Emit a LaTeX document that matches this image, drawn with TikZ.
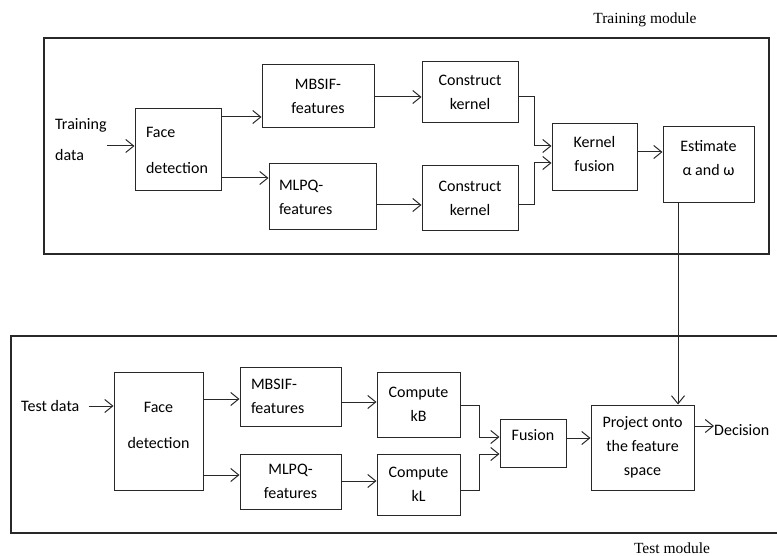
\documentclass[tikz,border=0pt]{standalone}
\usepackage{fontspec}
\setmainfont{Carlito}
\newfontfamily\seriflabel{Liberation Serif}
\usetikzlibrary{arrows.meta}
\definecolor{linec}{RGB}{40,40,40}
\begin{document}
\begin{tikzpicture}[x=1pt,y=-1pt,
  every node/.style={font=\fontsize{16}{24}\selectfont, text=black},
  box/.style={draw=linec, line width=1pt, align=center, inner sep=2pt},
  lbox/.style={box, align=left},
  arr/.style={draw=linec, line width=1pt, -{Straight Barb[length=8pt,width=13pt]}},
  frame/.style={draw=linec, line width=1.2pt},
  modlabel/.style={font=\seriflabel\fontsize{15.5}{18}\selectfont}]
\useasboundingbox (0,0) rectangle (777,556);

% ---------- Training module ----------
\draw[frame] (44,38) rectangle (769,254);
\node[modlabel] (trl) at (645,20) {Training module};

\node[anchor=west, inner sep=0, align=left] (tdata) at (55,139.5) {Training\\[7pt]data};
\node[lbox, inner xsep=11pt, text width=64pt, minimum width=86pt, minimum height=82pt] (face1) at (178,150) {Face\\[12pt]detection};
\node[box, minimum width=112pt, minimum height=63pt] (mbsif1) at (318,96.5) {MBSIF-\\features};
\node[lbox, inner xsep=10pt, text width=87pt, minimum width=107pt, minimum height=66pt] (mlpq1) at (322.5,197) {MLPQ-\\features};
\node[box, minimum width=96pt, minimum height=61pt] (ck1) at (470,92.5) {Construct\\kernel};
\node[box, minimum width=96pt, minimum height=65pt] (ck2) at (470,198.5) {Construct\\kernel};
\node[box, text depth=8pt, minimum width=85pt, minimum height=67pt] (kf) at (594.5,157.5) {Kernel\\fusion};
\node[box, text depth=14pt, minimum width=91pt, minimum height=76pt] (est) at (708.5,165) {Estimate\\α and ω};

\draw[arr] (tdata.east |- 0,146) -- (face1.west |- 0,146);
\draw[arr] (face1.east |- 0,117) -- (mbsif1.west |- 0,117);
\draw[arr] (face1.east |- 0,178) -- (mlpq1.west |- 0,178);
\draw[arr] (mbsif1.east |- 0,97) -- (ck1.west |- 0,97);
\draw[arr] (mlpq1.east |- 0,205) -- (ck2.west |- 0,205);
\draw[arr] (ck1.east |- 0,97) -| (534,146) -- (kf.west |- 0,146);
\draw[arr] (ck2.east |- 0,205) -| (534,163) -- (kf.west |- 0,163);
\draw[arr] (kf.east |- 0,152) -- (est.west |- 0,152);

% ---------- Test module ----------
\draw[frame] (777,336) -- (11,336) -- (11,533) -- (777,533);
\node[modlabel] (tel) at (672,548) {Test module};

\node[anchor=west, inner sep=0] (tst) at (21,406) {Test data};
\node[box, text depth=12pt, minimum width=89pt, minimum height=118pt] (face2) at (158.5,431) {Face\\[12pt]detection};
\node[lbox, inner xsep=11pt, text width=79pt, minimum width=101pt, minimum height=59pt] (mbsif2) at (290.5,396.5) {MBSIF-\\features};
\node[box, minimum width=101pt, minimum height=55pt] (mlpq2) at (290.5,481.5) {MLPQ-\\features};
\node[box, minimum width=83pt, minimum height=65pt] (ckb) at (418.5,404.5) {Compute\\kB};
\node[box, minimum width=83pt, minimum height=61pt] (ckl) at (418.5,484.5) {Compute\\kL};
\node[box, text depth=16pt, minimum width=66pt, minimum height=48pt] (fus) at (533,443) {Fusion};
\node[box, minimum width=103pt, minimum height=85pt] (proj) at (642.5,447.5) {Project onto\\the feature\\space};
\node[anchor=west, inner sep=0] (dec) at (714,430) {Decision};

\draw[arr] ([xshift=9pt]tst.east) -- (face2.west |- tst.east);
\draw[arr] (face2.east |- 0,399) -- (mbsif2.west |- 0,399);
\draw[arr] (face2.east |- 0,475) -- (mlpq2.west |- 0,475);
\draw[arr] (mbsif2.east |- 0,402) -- (ckb.west |- 0,402);
\draw[arr] (mlpq2.east |- 0,481) -- (ckl.west |- 0,481);
\draw[arr] (ckb.east |- 0,405) -| (479,437) -- (fus.west |- 0,437);
\draw[arr] (ckl.east |- 0,490) -| (479,454) -- (fus.west |- 0,454);
\draw[arr] (fus.east |- 0,438) -- (proj.west |- 0,438);
\draw[arr] (proj.east |- 0,426) -- (dec.west |- 0,426);

% ---------- link between modules ----------
\draw[arr] (est.south -| 678,0) -- (proj.north -| 678,0);
\end{tikzpicture}
\end{document}
